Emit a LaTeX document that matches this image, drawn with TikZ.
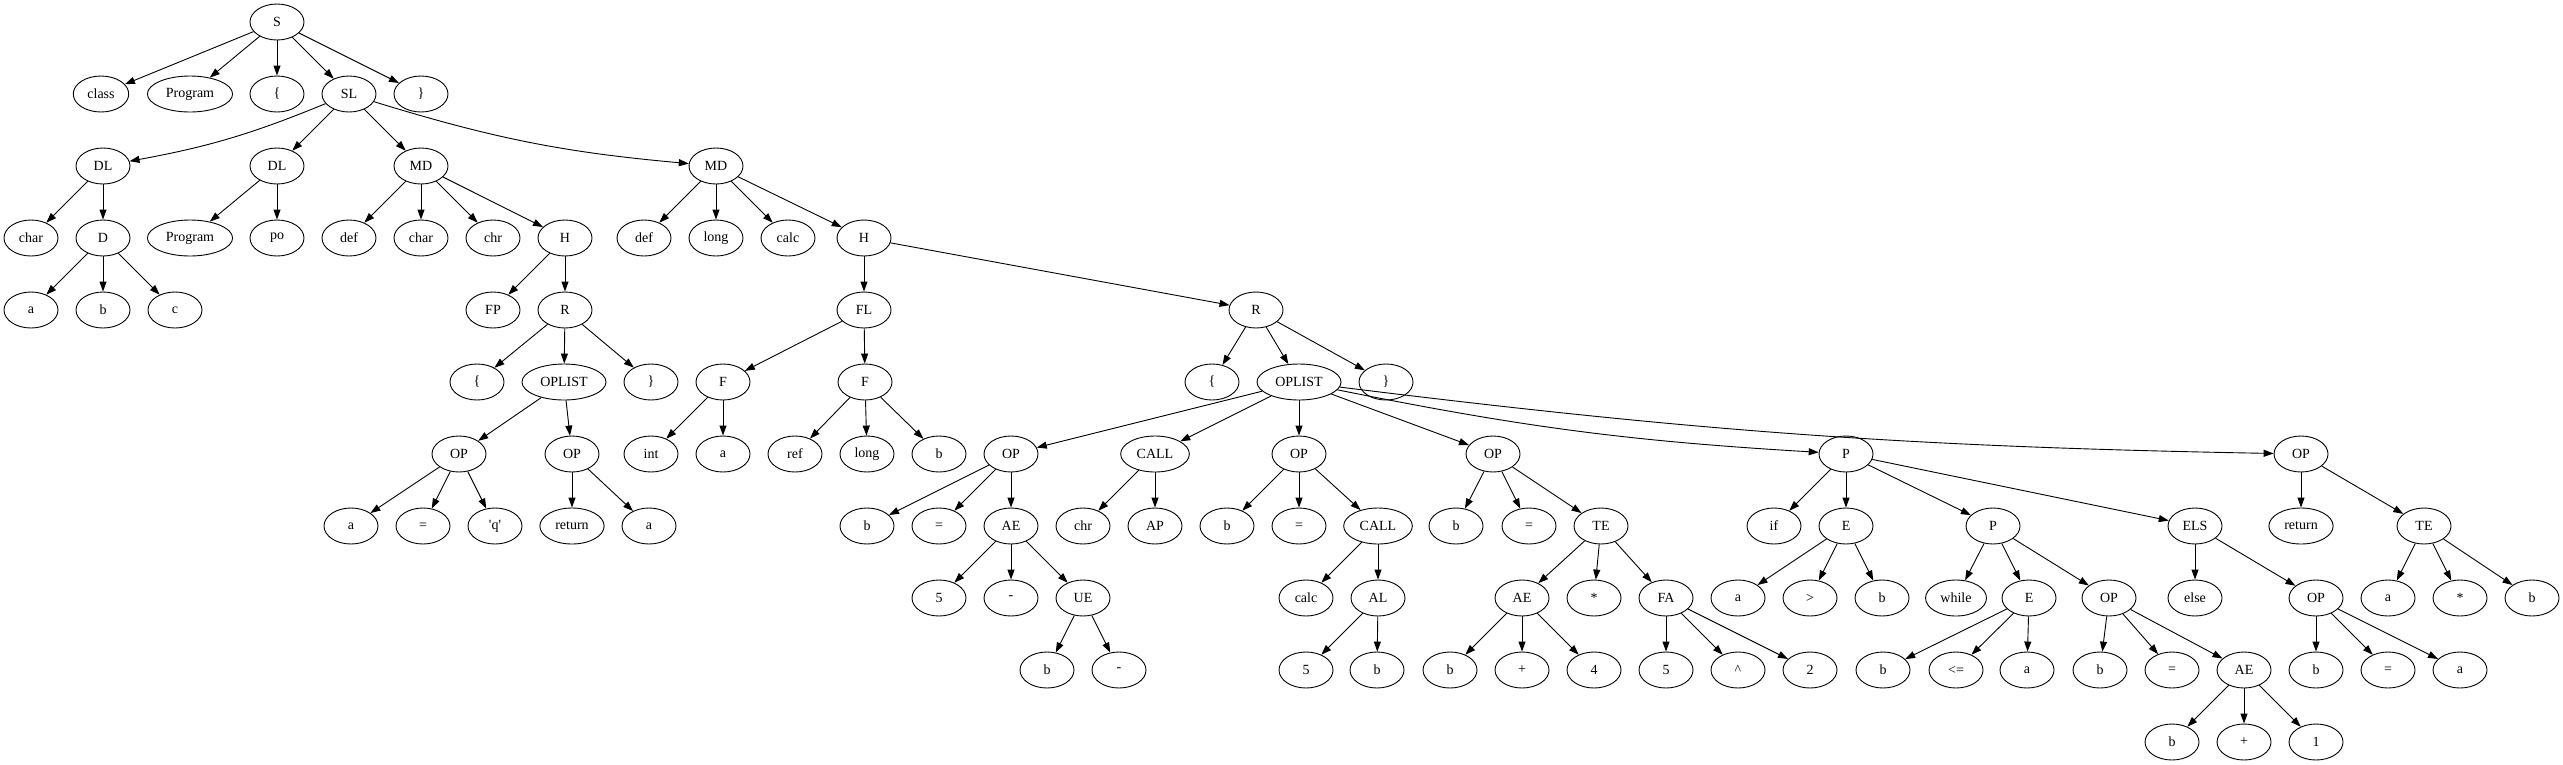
\documentclass[tikz,border=0pt]{standalone}
\usepackage{fontspec}
\setmainfont{Liberation Serif}
\usetikzlibrary{arrows.meta,shapes.geometric}

\begin{document}
\begin{tikzpicture}[x=1pt,y=-1pt,font=\fontsize{14}{16}\selectfont,
  tn/.style={draw,ellipse,line width=.9pt,minimum width=54pt,minimum height=36pt,
    inner xsep=6pt,inner ysep=2pt},
  edge/.style={draw,line width=.9pt,-{Triangle[length=10pt,width=7pt]}}]
 \useasboundingbox (0,0) rectangle (2563,764);
 % rows 0--2
 \node[tn] (S) at (277,22) {S};
 \node[tn] (cls) at (101,94) {class};
 \node[tn] (prg) at (190,94) {Program};
 \node[tn] (lb) at (277,94) {\{};
 \node[tn] (SL) at (349,94) {SL};
 \node[tn] (rb) at (421,94) {\}};
 \node[tn] (DLa) at (103,166) {DL};
 \node[tn] (DLb) at (277,166) {DL};
 \node[tn] (MDa) at (421,166) {MD};
 \node[tn] (MDb) at (716,166) {MD};
 % row 3
 \node[tn] (chA) at (31,238) {char};
 \node[tn] (D) at (103,238) {D};
 \node[tn] (prgB) at (190,238) {Program};
 \node[tn] (po) at (277,238) {po};
 \node[tn] (dfA) at (349,238) {def};
 \node[tn] (chB) at (421,238) {char};
 \node[tn] (chrA) at (493,238) {chr};
 \node[tn] (Ha) at (565,238) {H};
 \node[tn] (dfB) at (644,238) {def};
 \node[tn] (lgA) at (716,238) {long};
 \node[tn] (clcA) at (788,238) {calc};
 \node[tn] (Hb) at (864,238) {H};
 % row 4
 \node[tn] (dA) at (31,310) {a};
 \node[tn] (dB) at (103,310) {b};
 \node[tn] (dC) at (175,310) {c};
 \node[tn] (FP) at (493,310) {FP};
 \node[tn] (Ra) at (565,310) {R};
 \node[tn] (FL) at (864,310) {FL};
 \node[tn] (Rb) at (1256,310) {R};
 % row 5
 \node[tn] (lbA) at (477,382) {\{};
 \node[tn] (OLa) at (564,382) {OPLIST};
 \node[tn] (rbA) at (651,382) {\}};
 \node[tn] (Fa) at (723,382) {F};
 \node[tn] (Fb) at (865,382) {F};
 \node[tn] (lbB) at (1212,382) {\{};
 \node[tn] (OLb) at (1299,382) {OPLIST};
 \node[tn] (rbB) at (1386,382) {\}};
 % row 6
 \node[tn] (OPa) at (459,454) {OP};
 \node[tn] (OPb) at (572,454) {OP};
 \node[tn] (intA) at (651,454) {int};
 \node[tn] (faA) at (723,454) {a};
 \node[tn] (refA) at (795,454) {ref};
 \node[tn] (lgB) at (867,454) {long};
 \node[tn] (fbB) at (939,454) {b};
 \node[tn] (OPc) at (1011,454) {OP};
 \node[tn] (CLa) at (1155,454) {CALL};
 \node[tn] (OPd) at (1299,454) {OP};
 \node[tn] (OPe) at (1493,454) {OP};
 \node[tn] (Pa) at (1846,454) {P};
 \node[tn] (OPf) at (2301,454) {OP};
 % row 7
 \node[tn] (oaA) at (351,526) {a};
 \node[tn] (oaE) at (423,526) {=};
 \node[tn] (oaQ) at (495,526) {\textquotesingle q\textquotesingle};
 \node[tn] (obR) at (572,526) {return};
 \node[tn] (obA) at (649,526) {a};
 \node[tn] (ocB) at (867,526) {b};
 \node[tn] (ocE) at (939,526) {=};
 \node[tn] (AEa) at (1011,526) {AE};
 \node[tn] (chrB) at (1083,526) {chr};
 \node[tn] (AP) at (1155,526) {AP};
 \node[tn] (odB) at (1227,526) {b};
 \node[tn] (odE) at (1299,526) {=};
 \node[tn] (CLb) at (1378,526) {CALL};
 \node[tn] (oeB) at (1456,526) {b};
 \node[tn] (oeE) at (1529,526) {=};
 \node[tn] (TEa) at (1601,526) {TE};
 \node[tn] (iff) at (1774,526) {if};
 \node[tn] (Ea) at (1846,526) {E};
 \node[tn] (Pb) at (1993,526) {P};
 \node[tn] (ELS) at (2195,526) {ELS};
 \node[tn] (ofR) at (2301,526) {return};
 \node[tn] (TEb) at (2424,526) {TE};
 % row 8
 \node[tn] (aeFive) at (939,598) {5};
 \node[tn] (aeMin) at (1011,598) {-};
 \node[tn] (UE) at (1083,598) {UE};
 \node[tn] (clcB) at (1306,598) {calc};
 \node[tn] (AL) at (1378,598) {AL};
 \node[tn] (AEb) at (1522,598) {AE};
 \node[tn] (teStar) at (1594,598) {*};
 \node[tn] (FA) at (1666,598) {FA};
 \node[tn] (eaA) at (1738,598) {a};
 \node[tn] (eaGt) at (1810,598) {>};
 \node[tn] (eaB) at (1882,598) {b};
 \node[tn] (whl) at (1956,598) {while};
 \node[tn] (Eb) at (2029,598) {E};
 \node[tn] (OPg) at (2109,598) {OP};
 \node[tn] (els) at (2195,598) {else};
 \node[tn] (OPh) at (2316,598) {OP};
 \node[tn] (tbA) at (2388,598) {a};
 \node[tn] (tbStar) at (2460,598) {*};
 \node[tn] (tbB) at (2532,598) {b};
 % row 9
 \node[tn] (ueB) at (1047,670) {b};
 \node[tn] (ueMin) at (1119,670) {-};
 \node[tn] (alFive) at (1306,670) {5};
 \node[tn] (alB) at (1377,670) {b};
 \node[tn] (abB) at (1450,670) {b};
 \node[tn] (abPlus) at (1522,670) {+};
 \node[tn] (abFour) at (1594,670) {4};
 \node[tn] (faFive) at (1666,670) {5};
 \node[tn] (faHat) at (1738,670) {\textasciicircum};
 \node[tn] (faTwo) at (1810,670) {2};
 \node[tn] (ebB) at (1883,670) {b};
 \node[tn] (ebLe) at (1956,670) {<=};
 \node[tn] (ebA) at (2027,670) {a};
 \node[tn] (ogB) at (2100,670) {b};
 \node[tn] (ogE) at (2172,670) {=};
 \node[tn] (AEc) at (2244,670) {AE};
 \node[tn] (ohB) at (2316,670) {b};
 \node[tn] (ohE) at (2388,670) {=};
 \node[tn] (ohA) at (2460,670) {a};
 % row 10
 \node[tn] (acB) at (2172,742) {b};
 \node[tn] (acPlus) at (2244,742) {+};
 \node[tn] (acOne) at (2316,742) {1};
 % edges
 \foreach \p/\c in {S/cls,S/prg,S/lb,S/SL,S/rb,SL/DLb,SL/MDa,
   DLa/chA,DLa/D,D/dA,D/dB,D/dC,DLb/prgB,DLb/po,
   MDa/dfA,MDa/chB,MDa/chrA,MDa/Ha,Ha/FP,Ha/Ra,Ra/lbA,Ra/OLa,Ra/rbA,
   OLa/OPa,OLa/OPb,OPa/oaA,OPa/oaE,OPa/oaQ,OPb/obR,OPb/obA,
   MDb/dfB,MDb/lgA,MDb/clcA,MDb/Hb,Hb/FL,Hb/Rb,FL/Fa,FL/Fb,
   Fa/intA,Fa/faA,Fb/refA,Fb/lgB,Fb/fbB,
   Rb/lbB,Rb/OLb,Rb/rbB,OLb/OPc,OLb/CLa,OLb/OPd,OLb/OPe,
   OPc/ocB,OPc/ocE,OPc/AEa,AEa/aeFive,AEa/aeMin,AEa/UE,UE/ueB,UE/ueMin,
   CLa/chrB,CLa/AP,OPd/odB,OPd/odE,OPd/CLb,CLb/clcB,CLb/AL,AL/alFive,AL/alB,
   OPe/oeB,OPe/oeE,OPe/TEa,TEa/AEb,TEa/teStar,TEa/FA,
   AEb/abB,AEb/abPlus,AEb/abFour,FA/faFive,FA/faHat,FA/faTwo,
   Pa/iff,Pa/Ea,Pa/Pb,Pa/ELS,Ea/eaA,Ea/eaGt,Ea/eaB,Pb/whl,Pb/Eb,Pb/OPg,
   Eb/ebB,Eb/ebLe,Eb/ebA,OPg/ogB,OPg/ogE,OPg/AEc,AEc/acB,AEc/acPlus,AEc/acOne,
   ELS/els,ELS/OPh,OPh/ohB,OPh/ohE,OPh/ohA,
   OPf/ofR,OPf/TEb,TEb/tbA,TEb/tbStar,TEb/tbB}
   \draw[edge] (\p) -- (\c);
 % the long ones sag a little
 \draw[edge] (SL) to[bend left=6] (DLa);
 \draw[edge] (SL) to[bend right=6] (MDb);
 \draw[edge] (OLb) to[bend right=4] (Pa);
 \draw[edge] (OLb) to[bend right=3] (OPf);
\end{tikzpicture}
\end{document}
